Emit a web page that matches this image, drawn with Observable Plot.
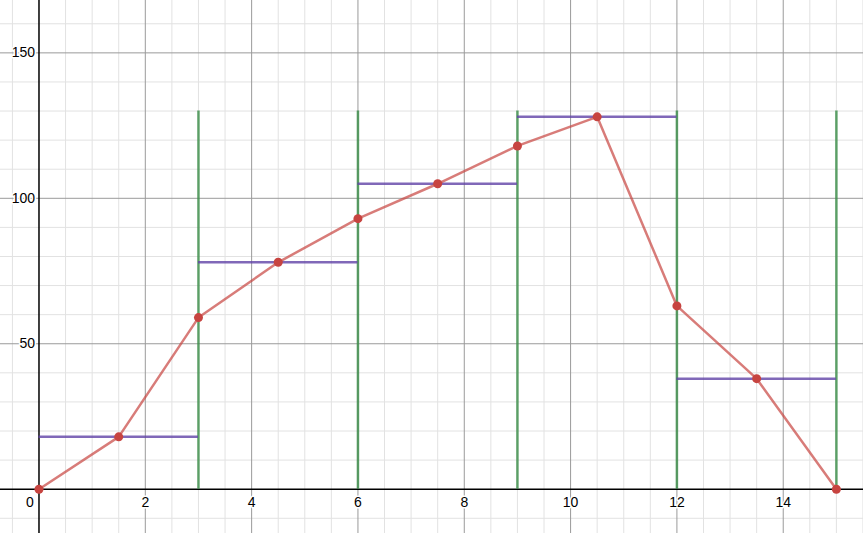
<!DOCTYPE html>
<html>
<head>
<meta charset="utf-8">
<script src="https://cdn.jsdelivr.net/npm/d3@7"></script>
<script src="https://cdn.jsdelivr.net/npm/@observablehq/plot@0.6"></script>
<style>
  html, body { margin: 0; padding: 0; background: #fff; }
  #chart svg { display: block; }
</style>
</head>
<body>
<div id="chart"></div>
<script>
// Data
const pointX = [0, 1.5, 3, 4.5, 6, 7.5, 9, 10.5, 12, 13.5, 15];
const pointY = [0, 18, 59, 78, 93, 105, 118, 128, 63, 38, 0];
const stepStart = [0, 3, 6, 9, 12];
const stepEnd = [3, 6, 9, 12, 15];
const stepValue = [18, 78, 105, 128, 38];
const boundaryX = [3, 6, 9, 12, 15];
const boundaryTop = [130, 130, 130, 130, 130];
const xTickLabels = [2, 4, 6, 8, 10, 12, 14];
const yTickLabels = [50, 100, 150];

const points = pointX.map((x, i) => ({x, y: pointY[i]}));
const steps = stepStart.map((s, i) => ({x1: s, x2: stepEnd[i], y: stepValue[i]}));
const bounds = boundaryX.map((x, i) => ({x, y1: 0, y2: boundaryTop[i]}));

const xMinor = d3.range(-0.5, 15.6, 0.5).filter(v => v % 2 !== 0);
const yMinor = d3.range(-10, 170, 10).filter(v => v % 50 !== 0);
const xMajor = [...xTickLabels];
const yMajor = [...yTickLabels];

const red = "#c74440", purple = "#6042a6", green = "#388c46";

const chart = Plot.plot({
  width: 863,
  height: 533,
  margin: 0,
  x: {domain: [-0.724, 15.51], axis: null},
  y: {domain: [-15.23, 168.0], axis: null},
  style: {fontFamily: "Liberation Sans, Arial, sans-serif", fontSize: "14px", background: "#fff"},
  marks: [
    Plot.ruleX(xMinor, {stroke: "#e2e2e2", strokeWidth: 1}),
    Plot.ruleY(yMinor, {stroke: "#e2e2e2", strokeWidth: 1}),
    Plot.ruleX(xMajor, {stroke: "#9a9a9a", strokeWidth: 1}),
    Plot.ruleY(yMajor, {stroke: "#9a9a9a", strokeWidth: 1}),
    Plot.ruleX([0], {stroke: "#000", strokeWidth: 1.5}),
    Plot.ruleY([0], {stroke: "#000", strokeWidth: 1.5}),
    Plot.text(yTickLabels, {x: 0, y: d => d, text: d => String(d), textAnchor: "end", dx: -4, fill: "#000", stroke: "white", strokeWidth: 3, fontSize: 14}),
    Plot.text(xTickLabels, {x: d => d, y: 0, text: d => String(d), dy: 13, fill: "#000", stroke: "white", strokeWidth: 3, fontSize: 14}),
    Plot.text([0], {x: 0, y: 0, text: d => String(d), dx: -9, dy: 13, fill: "#000", stroke: "white", strokeWidth: 3, fontSize: 14}),
    Plot.ruleX(bounds, {x: "x", y1: "y1", y2: "y2", stroke: green, strokeWidth: 2.5, strokeOpacity: 0.8}),
    Plot.ruleY(steps, {x1: "x1", x2: "x2", y: "y", stroke: purple, strokeWidth: 2.5, strokeOpacity: 0.8}),
    Plot.line(points, {x: "x", y: "y", stroke: red, strokeWidth: 2.5, strokeOpacity: 0.7}),
    Plot.dot(points, {x: "x", y: "y", r: 4.5, fill: red, stroke: "none"})
  ]
});
document.getElementById("chart").append(chart);
</script>
</body>
</html>
